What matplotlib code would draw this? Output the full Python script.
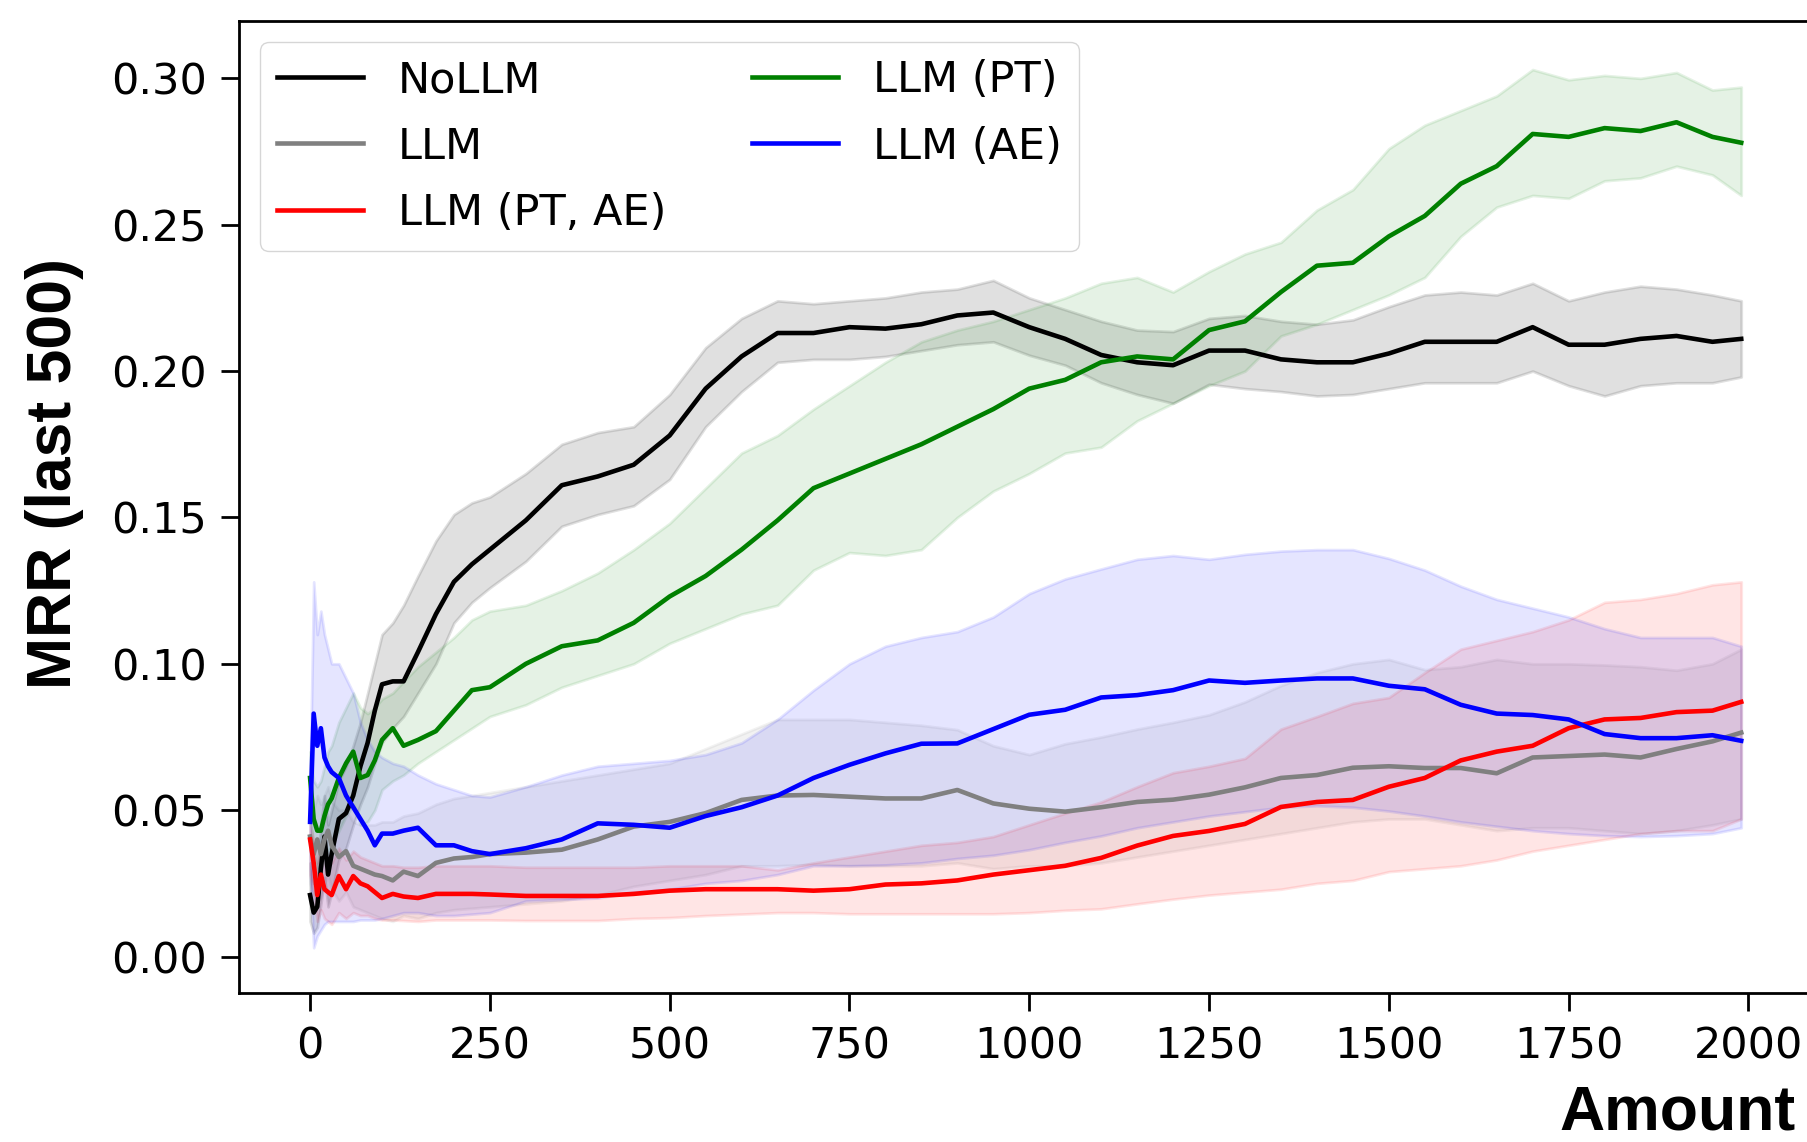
import matplotlib
matplotlib.use("Agg")
import matplotlib.pyplot as plt
import numpy as np

# sample positions (Amount) shared by every series
amount = [0, 5, 10, 15, 20, 25, 30, 40, 50, 60,
          70, 80, 90, 100, 115, 130, 150, 175, 200, 225,
          250, 300, 350, 400, 450, 500, 550, 600, 650, 700,
          750, 800, 850, 900, 950, 1000, 1050, 1100, 1150, 1200,
          1250, 1300, 1350, 1400, 1450, 1500, 1550, 1600, 1650, 1700,
          1750, 1800, 1850, 1900, 1950, 1990]

nollm_mean = [0.021, 0.015, 0.017, 0.030, 0.041, 0.028, 0.035, 0.047, 0.049, 0.055,
              0.065, 0.073, 0.084, 0.093, 0.094, 0.094, 0.104, 0.117, 0.128, 0.134,
              0.139, 0.149, 0.161, 0.164, 0.168, 0.178, 0.194, 0.205, 0.213, 0.213,
              0.215, 0.2145, 0.216, 0.219, 0.220, 0.215, 0.211, 0.2055, 0.203, 0.202,
              0.207, 0.207, 0.204, 0.203, 0.203, 0.206, 0.210, 0.210, 0.210, 0.215,
              0.209, 0.209, 0.211, 0.212, 0.210, 0.211]
nollm_hi = [0.032, 0.025, 0.030, 0.045, 0.055, 0.045, 0.050, 0.060, 0.065, 0.072,
            0.080, 0.090, 0.100, 0.110, 0.114, 0.120, 0.130, 0.142, 0.151, 0.155,
            0.157, 0.165, 0.175, 0.179, 0.181, 0.192, 0.208, 0.218, 0.224, 0.223,
            0.224, 0.225, 0.227, 0.228, 0.231, 0.225, 0.221, 0.217, 0.214, 0.2135,
            0.218, 0.219, 0.217, 0.216, 0.2175, 0.222, 0.226, 0.227, 0.226, 0.230,
            0.224, 0.227, 0.229, 0.228, 0.226, 0.224]
nollm_lo = [0.012, 0.008, 0.010, 0.018, 0.027, 0.017, 0.022, 0.033, 0.037, 0.045,
            0.052, 0.058, 0.066, 0.073, 0.078, 0.082, 0.090, 0.100, 0.114, 0.121,
            0.126, 0.135, 0.147, 0.151, 0.154, 0.163, 0.181, 0.193, 0.203, 0.204,
            0.204, 0.205, 0.207, 0.209, 0.210, 0.2054, 0.202, 0.196, 0.192, 0.189,
            0.1955, 0.194, 0.193, 0.1915, 0.192, 0.194, 0.196, 0.196, 0.196, 0.200,
            0.195, 0.1915, 0.195, 0.196, 0.196, 0.198]

llm_mean = [0.041, 0.035, 0.040, 0.035, 0.040, 0.043, 0.038, 0.034, 0.036, 0.031,
            0.030, 0.029, 0.028, 0.0275, 0.026, 0.029, 0.0275, 0.032, 0.0335, 0.034,
            0.035, 0.0355, 0.0365, 0.040, 0.0444, 0.046, 0.049, 0.0535, 0.055, 0.0552,
            0.0546, 0.054, 0.054, 0.0569, 0.0523, 0.0505, 0.0495, 0.051, 0.0528, 0.0536,
            0.0553, 0.0578, 0.061, 0.062, 0.0645, 0.065, 0.0644, 0.0644, 0.0626, 0.068,
            0.0685, 0.069, 0.068, 0.0709, 0.0735, 0.0765]
llm_hi = [0.060, 0.050, 0.055, 0.052, 0.055, 0.058, 0.053, 0.050, 0.050, 0.046,
          0.045, 0.045, 0.045, 0.046, 0.046, 0.048, 0.049, 0.052, 0.054, 0.055,
          0.056, 0.058, 0.060, 0.062, 0.064, 0.066, 0.071, 0.076, 0.081, 0.081,
          0.081, 0.080, 0.079, 0.0775, 0.072, 0.069, 0.0727, 0.075, 0.0777, 0.080,
          0.0826, 0.087, 0.0926, 0.097, 0.100, 0.1015, 0.098, 0.099, 0.1015, 0.100,
          0.100, 0.0996, 0.099, 0.0978, 0.100, 0.105]
llm_lo = [0.025, 0.020, 0.025, 0.020, 0.025, 0.028, 0.023, 0.019, 0.022, 0.017,
          0.016, 0.015, 0.014, 0.013, 0.012, 0.014, 0.013, 0.015, 0.016, 0.0165,
          0.017, 0.018, 0.019, 0.021, 0.024, 0.026, 0.028, 0.031, 0.031, 0.0315,
          0.031, 0.031, 0.031, 0.032, 0.030, 0.031, 0.031, 0.032, 0.034, 0.036,
          0.038, 0.040, 0.042, 0.044, 0.046, 0.047, 0.047, 0.045, 0.043, 0.044,
          0.044, 0.043, 0.042, 0.043, 0.045, 0.047]

pt_ae_mean = [0.040, 0.032, 0.021, 0.028, 0.023, 0.022, 0.021, 0.0275, 0.023, 0.0275,
              0.025, 0.024, 0.022, 0.020, 0.0214, 0.0205, 0.020, 0.0214, 0.0214, 0.0214,
              0.0212, 0.0207, 0.0207, 0.0207, 0.0214, 0.0225, 0.023, 0.023, 0.023, 0.0225,
              0.023, 0.0246, 0.025, 0.026, 0.028, 0.0295, 0.031, 0.0337, 0.0379, 0.0412,
              0.0429, 0.0453, 0.0511, 0.0528, 0.0535, 0.058, 0.061, 0.067, 0.070, 0.072,
              0.078, 0.081, 0.0815, 0.0835, 0.084, 0.087]
pt_ae_hi = [0.045, 0.040, 0.032, 0.038, 0.035, 0.033, 0.032, 0.037, 0.033, 0.036,
            0.034, 0.033, 0.032, 0.031, 0.031, 0.0305, 0.0305, 0.031, 0.031, 0.031,
            0.031, 0.0305, 0.0305, 0.0305, 0.0305, 0.031, 0.031, 0.031, 0.0296, 0.032,
            0.034, 0.036, 0.038, 0.039, 0.041, 0.045, 0.049, 0.0528, 0.058, 0.0628,
            0.065, 0.0677, 0.0777, 0.082, 0.0865, 0.0885, 0.097, 0.105, 0.108, 0.111,
            0.115, 0.121, 0.122, 0.124, 0.127, 0.128]
pt_ae_lo = [0.028, 0.022, 0.012, 0.016, 0.013, 0.012, 0.011, 0.015, 0.013, 0.015,
            0.014, 0.014, 0.013, 0.0125, 0.0125, 0.0123, 0.012, 0.0125, 0.0125, 0.0125,
            0.0125, 0.0123, 0.0123, 0.0123, 0.013, 0.0133, 0.014, 0.0145, 0.015, 0.015,
            0.0146, 0.0146, 0.0146, 0.0146, 0.0146, 0.015, 0.0158, 0.0163, 0.018, 0.0196,
            0.021, 0.022, 0.023, 0.025, 0.026, 0.029, 0.030, 0.031, 0.033, 0.036,
            0.038, 0.040, 0.042, 0.043, 0.043, 0.047]

pt_mean = [0.061, 0.047, 0.043, 0.043, 0.048, 0.052, 0.054, 0.061, 0.066, 0.070,
           0.061, 0.062, 0.067, 0.074, 0.078, 0.072, 0.074, 0.077, 0.084, 0.091,
           0.092, 0.100, 0.106, 0.108, 0.114, 0.123, 0.130, 0.139, 0.149, 0.160,
           0.165, 0.170, 0.175, 0.181, 0.187, 0.194, 0.197, 0.203, 0.205, 0.204,
           0.214, 0.217, 0.227, 0.236, 0.237, 0.246, 0.253, 0.264, 0.270, 0.281,
           0.280, 0.283, 0.282, 0.285, 0.280, 0.278]
pt_hi = [0.070, 0.060, 0.058, 0.060, 0.065, 0.070, 0.072, 0.080, 0.085, 0.090,
         0.085, 0.083, 0.085, 0.088, 0.090, 0.094, 0.099, 0.104, 0.109, 0.115,
         0.118, 0.120, 0.125, 0.131, 0.139, 0.148, 0.160, 0.172, 0.178, 0.187,
         0.195, 0.203, 0.210, 0.214, 0.217, 0.221, 0.225, 0.230, 0.232, 0.227,
         0.234, 0.240, 0.244, 0.255, 0.262, 0.276, 0.284, 0.289, 0.294, 0.303,
         0.2995, 0.301, 0.300, 0.302, 0.296, 0.297]
pt_lo = [0.050, 0.035, 0.030, 0.030, 0.033, 0.036, 0.038, 0.043, 0.048, 0.052,
         0.045, 0.046, 0.050, 0.057, 0.060, 0.062, 0.066, 0.070, 0.074, 0.078,
         0.082, 0.086, 0.092, 0.096, 0.100, 0.107, 0.112, 0.117, 0.120, 0.132,
         0.138, 0.137, 0.139, 0.150, 0.159, 0.165, 0.172, 0.174, 0.183, 0.189,
         0.195, 0.200, 0.212, 0.216, 0.221, 0.226, 0.232, 0.246, 0.256, 0.260,
         0.259, 0.265, 0.266, 0.270, 0.267, 0.260]

ae_mean = [0.046, 0.083, 0.072, 0.078, 0.068, 0.065, 0.063, 0.061, 0.055, 0.051,
           0.047, 0.043, 0.038, 0.042, 0.042, 0.043, 0.044, 0.038, 0.038, 0.036,
           0.035, 0.037, 0.040, 0.0455, 0.045, 0.044, 0.048, 0.051, 0.055, 0.061,
           0.0655, 0.0694, 0.0727, 0.0728, 0.0777, 0.0826, 0.0843, 0.0885, 0.0893, 0.091,
           0.0943, 0.0935, 0.0943, 0.095, 0.095, 0.0925, 0.0913, 0.086, 0.083, 0.0825,
           0.081, 0.076, 0.0746, 0.0746, 0.0756, 0.0737]
ae_hi = [0.060, 0.128, 0.110, 0.118, 0.110, 0.105, 0.100, 0.100, 0.095, 0.090,
         0.080, 0.074, 0.070, 0.068, 0.066, 0.065, 0.062, 0.059, 0.057, 0.055,
         0.0545, 0.058, 0.062, 0.065, 0.066, 0.067, 0.069, 0.073, 0.081, 0.091,
         0.100, 0.106, 0.109, 0.111, 0.116, 0.124, 0.129, 0.1324, 0.1357, 0.137,
         0.1357, 0.1374, 0.1385, 0.139, 0.139, 0.136, 0.132, 0.1265, 0.122, 0.119,
         0.116, 0.112, 0.109, 0.109, 0.109, 0.106]
ae_lo = [0.030, 0.003, 0.007, 0.009, 0.011, 0.012, 0.012, 0.012, 0.012, 0.012,
         0.0125, 0.0125, 0.0125, 0.013, 0.014, 0.015, 0.015, 0.014, 0.014, 0.0145,
         0.015, 0.019, 0.0195, 0.020, 0.022, 0.023, 0.025, 0.026, 0.028, 0.031,
         0.031, 0.0313, 0.032, 0.0335, 0.0346, 0.0365, 0.039, 0.0412, 0.044, 0.046,
         0.048, 0.0495, 0.051, 0.0515, 0.051, 0.0497, 0.048, 0.046, 0.0445, 0.043,
         0.042, 0.0413, 0.041, 0.0413, 0.042, 0.044]

labels = ["NoLLM", "LLM", "LLM (PT, AE)", "LLM (PT)", "LLM (AE)"]
colors = ["black", "gray", "red", "green", "blue"]
fill_alpha = [0.12, 0.1, 0.1, 0.1, 0.1]

series = [
    (nollm_mean, nollm_lo, nollm_hi),
    (llm_mean, llm_lo, llm_hi),
    (pt_ae_mean, pt_ae_lo, pt_ae_hi),
    (pt_mean, pt_lo, pt_hi),
    (ae_mean, ae_lo, ae_hi),
]

plt.rcParams["font.family"] = ["DejaVu Sans"]

fig = plt.figure(figsize=(18.07, 11.42), dpi=100)
# axes run slightly past the right edge, like the cropped original
ax = fig.add_axes([0.132, 0.1301, 0.8712, 0.8518])

x = np.array(amount)
for (mean, lo, hi), lab, col, a in zip(series, labels, colors, fill_alpha):
    ax.plot(x, mean, color=col, lw=3.3, label=lab)
    ax.fill_between(x, lo, hi, color=col, alpha=a, lw=2)

ax.set_xlim(-99.5, 2089.5)
ax.set_ylim(-0.0126, 0.3197)
ax.set_xticks(np.arange(0, 2001, 250))
ax.set_yticks(np.arange(0, 0.301, 0.05))
ax.yaxis.set_major_formatter(matplotlib.ticker.FormatStrFormatter("%.2f"))
ax.tick_params(labelsize=31, length=13, width=2, pad=10)
for sp in ax.spines.values():
    sp.set_linewidth(2)

ax.set_ylabel("MRR (last 500)", fontsize=45, fontweight="bold",
              family="Liberation Sans")
ax.yaxis.set_label_coords(-0.098, 0.534)
ax.set_xlabel("Amount", fontsize=45, fontweight="bold",
              family="Liberation Sans", loc="right")
ax.xaxis.set_label_coords(0.989, -0.093)

ax.legend(loc="upper left", ncol=2, fontsize=31, labelspacing=0.56,
          framealpha=0.8, edgecolor="0.8", borderaxespad=0.5)

fig.savefig("out.png", dpi=100)
